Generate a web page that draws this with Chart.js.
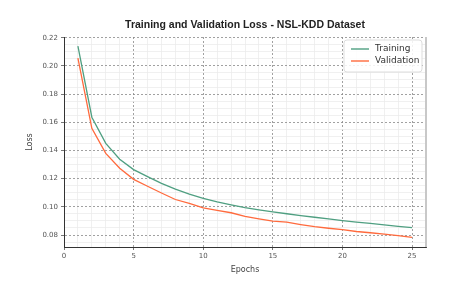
<!DOCTYPE html>
<html>
<head>
<meta charset="utf-8">
<script src="https://cdn.jsdelivr.net/npm/chart.js@4"></script>
<style>
  html, body { margin: 0; padding: 0; background: #fff; }
  #wrap { width: 465px; height: 293px; }
</style>
</head>
<body>
<div id="wrap"><canvas id="lossChart" width="465" height="293"></canvas></div>
<script>
// values
const epochs = [1, 2, 3, 4, 5, 6, 7, 8, 9, 10, 11, 12, 13, 14, 15, 16, 17, 18, 19, 20, 21, 22, 23, 24, 25];
const trainingLoss = [0.214, 0.1636, 0.145, 0.1338, 0.1264, 0.1214, 0.1166, 0.1125, 0.109, 0.106, 0.1035, 0.1014, 0.0995, 0.0979, 0.0964, 0.0951, 0.0938, 0.0926, 0.0914, 0.0902, 0.0892, 0.0882, 0.0872, 0.0861, 0.0852];
const validationLoss = [0.2055, 0.1557, 0.1379, 0.1274, 0.1195, 0.1146, 0.1098, 0.1052, 0.1025, 0.0993, 0.0975, 0.0958, 0.0932, 0.0915, 0.0898, 0.0891, 0.0874, 0.0859, 0.0848, 0.0838, 0.0825, 0.0816, 0.0806, 0.0796, 0.0783];
const seriesNames = ["Training", "Validation"];
const seriesColors = ["#4f9f81", "#ff6a3d"];
const chartTitle = "Training and Validation Loss - NSL-KDD Dataset";

const isMultiple = (v, step) => Math.abs(v / step - Math.round(v / step)) < 1e-6;

// title centred over the plot area, like matplotlib does
const titlePlugin = {
    id: "axesTitle",
    afterDraw(chart) {
        const { ctx, chartArea } = chart;
        ctx.save();
        ctx.font = "bold 10.5px 'Liberation Sans', Arial, sans-serif";
        ctx.fillStyle = "#222";
        ctx.textAlign = "center";
        ctx.textBaseline = "middle";
        ctx.fillText(chartTitle, (chartArea.left + chartArea.right) / 2, 25);
        ctx.restore();
    }
};

// light right spine + legend box inside the axes
const framePlugin = {
    id: "frameLegend",
    afterDatasetsDraw(chart) {
        const { ctx, chartArea } = chart;
        ctx.save();
        ctx.strokeStyle = "#c8c8c8";
        ctx.lineWidth = 2;
        ctx.beginPath();
        ctx.moveTo(chartArea.right, chartArea.top);
        ctx.lineTo(chartArea.right, chartArea.bottom);
        ctx.stroke();

        // legend
        const x0 = chartArea.right - 82, y0 = chartArea.top + 3;
        ctx.fillStyle = "rgba(255,255,255,0.85)";
        ctx.strokeStyle = "#dddddd";
        ctx.lineWidth = 1;
        ctx.beginPath();
        ctx.roundRect(x0, y0, 78, 32, 3);
        ctx.fill();
        ctx.stroke();
        ctx.font = "9px 'DejaVu Sans', sans-serif";
        ctx.textBaseline = "middle";
        ctx.textAlign = "left";
        chart.data.datasets.forEach((ds, i) => {
            const y = y0 + 9 + i * 12;
            ctx.strokeStyle = ds.borderColor;
            ctx.lineWidth = 1.4;
            ctx.beginPath();
            ctx.moveTo(x0 + 7, y);
            ctx.lineTo(x0 + 25, y);
            ctx.stroke();
            ctx.fillStyle = "#333";
            ctx.fillText(ds.label, x0 + 31, y);
        });
        ctx.restore();
    }
};

const toPoints = (ys) => ys.map((y, i) => ({ x: epochs[i], y: y }));

const gridColor = (step) => (c) => (c.tick && isMultiple(c.tick.value, step) ? "#8a8a8a" : "#ececec");
const gridDash = (step) => (c) => (c.tick && isMultiple(c.tick.value, step) ? [2, 2] : []);
const tickColor = (step) => (c) => (c.tick && isMultiple(c.tick.value, step) ? "#555" : "rgba(0,0,0,0)");

// minor ticks every 0.005 between the axis limits
const yTicks = (scale) => {
    const out = [];
    for (let k = Math.ceil(scale.min / 0.005 - 1e-9); k * 0.005 <= scale.max + 1e-9; k++) {
        out.push({ value: Math.round(k * 5) / 1000 });
    }
    scale.ticks = out;
};

new Chart(document.getElementById("lossChart"), {
    type: "line",
    data: {
        datasets: [
            { label: seriesNames[0], data: toPoints(trainingLoss), borderColor: seriesColors[0], backgroundColor: seriesColors[0], borderWidth: 1.3, pointRadius: 0, tension: 0 },
            { label: seriesNames[1], data: toPoints(validationLoss), borderColor: seriesColors[1], backgroundColor: seriesColors[1], borderWidth: 1.3, pointRadius: 0, tension: 0 }
        ]
    },
    options: {
        responsive: false,
        animation: false,
        layout: { padding: { left: 25, right: 39, top: 37, bottom: 16 } },
        plugins: {
            legend: { display: false },
            tooltip: { enabled: false },
            title: { display: false }
        },
        scales: {
            x: {
                type: "linear",
                min: 0,
                max: 26,
                afterFit: (s) => { s.height = 30; },
                ticks: {
                    stepSize: 1,
                    autoSkip: false,
                    maxRotation: 0,
                    padding: 2,
                    color: "#555",
                    font: { family: "'DejaVu Sans', sans-serif", size: 7 },
                    callback: (v) => (isMultiple(v, 5) ? v : "")
                },
                grid: { color: gridColor(5), lineWidth: 0.8, tickLength: 3, tickColor: tickColor(5) },
                border: { color: "#333", width: 1, dash: gridDash(5) },
                title: { display: true, text: "Epochs", color: "#444", font: { family: "'DejaVu Sans', sans-serif", size: 8 }, padding: { top: 0, bottom: 2 } }
            },
            y: {
                min: 0.0715,
                max: 0.2205,
                afterFit: (s) => { s.width = 39; },
                afterBuildTicks: yTicks,
                ticks: {
                    autoSkip: false,
                    padding: 3,
                    color: "#555",
                    font: { family: "'DejaVu Sans', sans-serif", size: 7 },
                    callback: (v) => (isMultiple(v, 0.02) ? v.toFixed(2) : "")
                },
                grid: { color: gridColor(0.02), lineWidth: 0.8, tickLength: 3, tickColor: tickColor(0.02) },
                border: { color: "#333", width: 1, dash: gridDash(0.02) },
                title: { display: true, text: "Loss", color: "#444", font: { family: "'DejaVu Sans', sans-serif", size: 8 }, padding: { top: 0, bottom: 0 } }
            }
        }
    },
    plugins: [titlePlugin, framePlugin]
});
</script>
</body>
</html>
